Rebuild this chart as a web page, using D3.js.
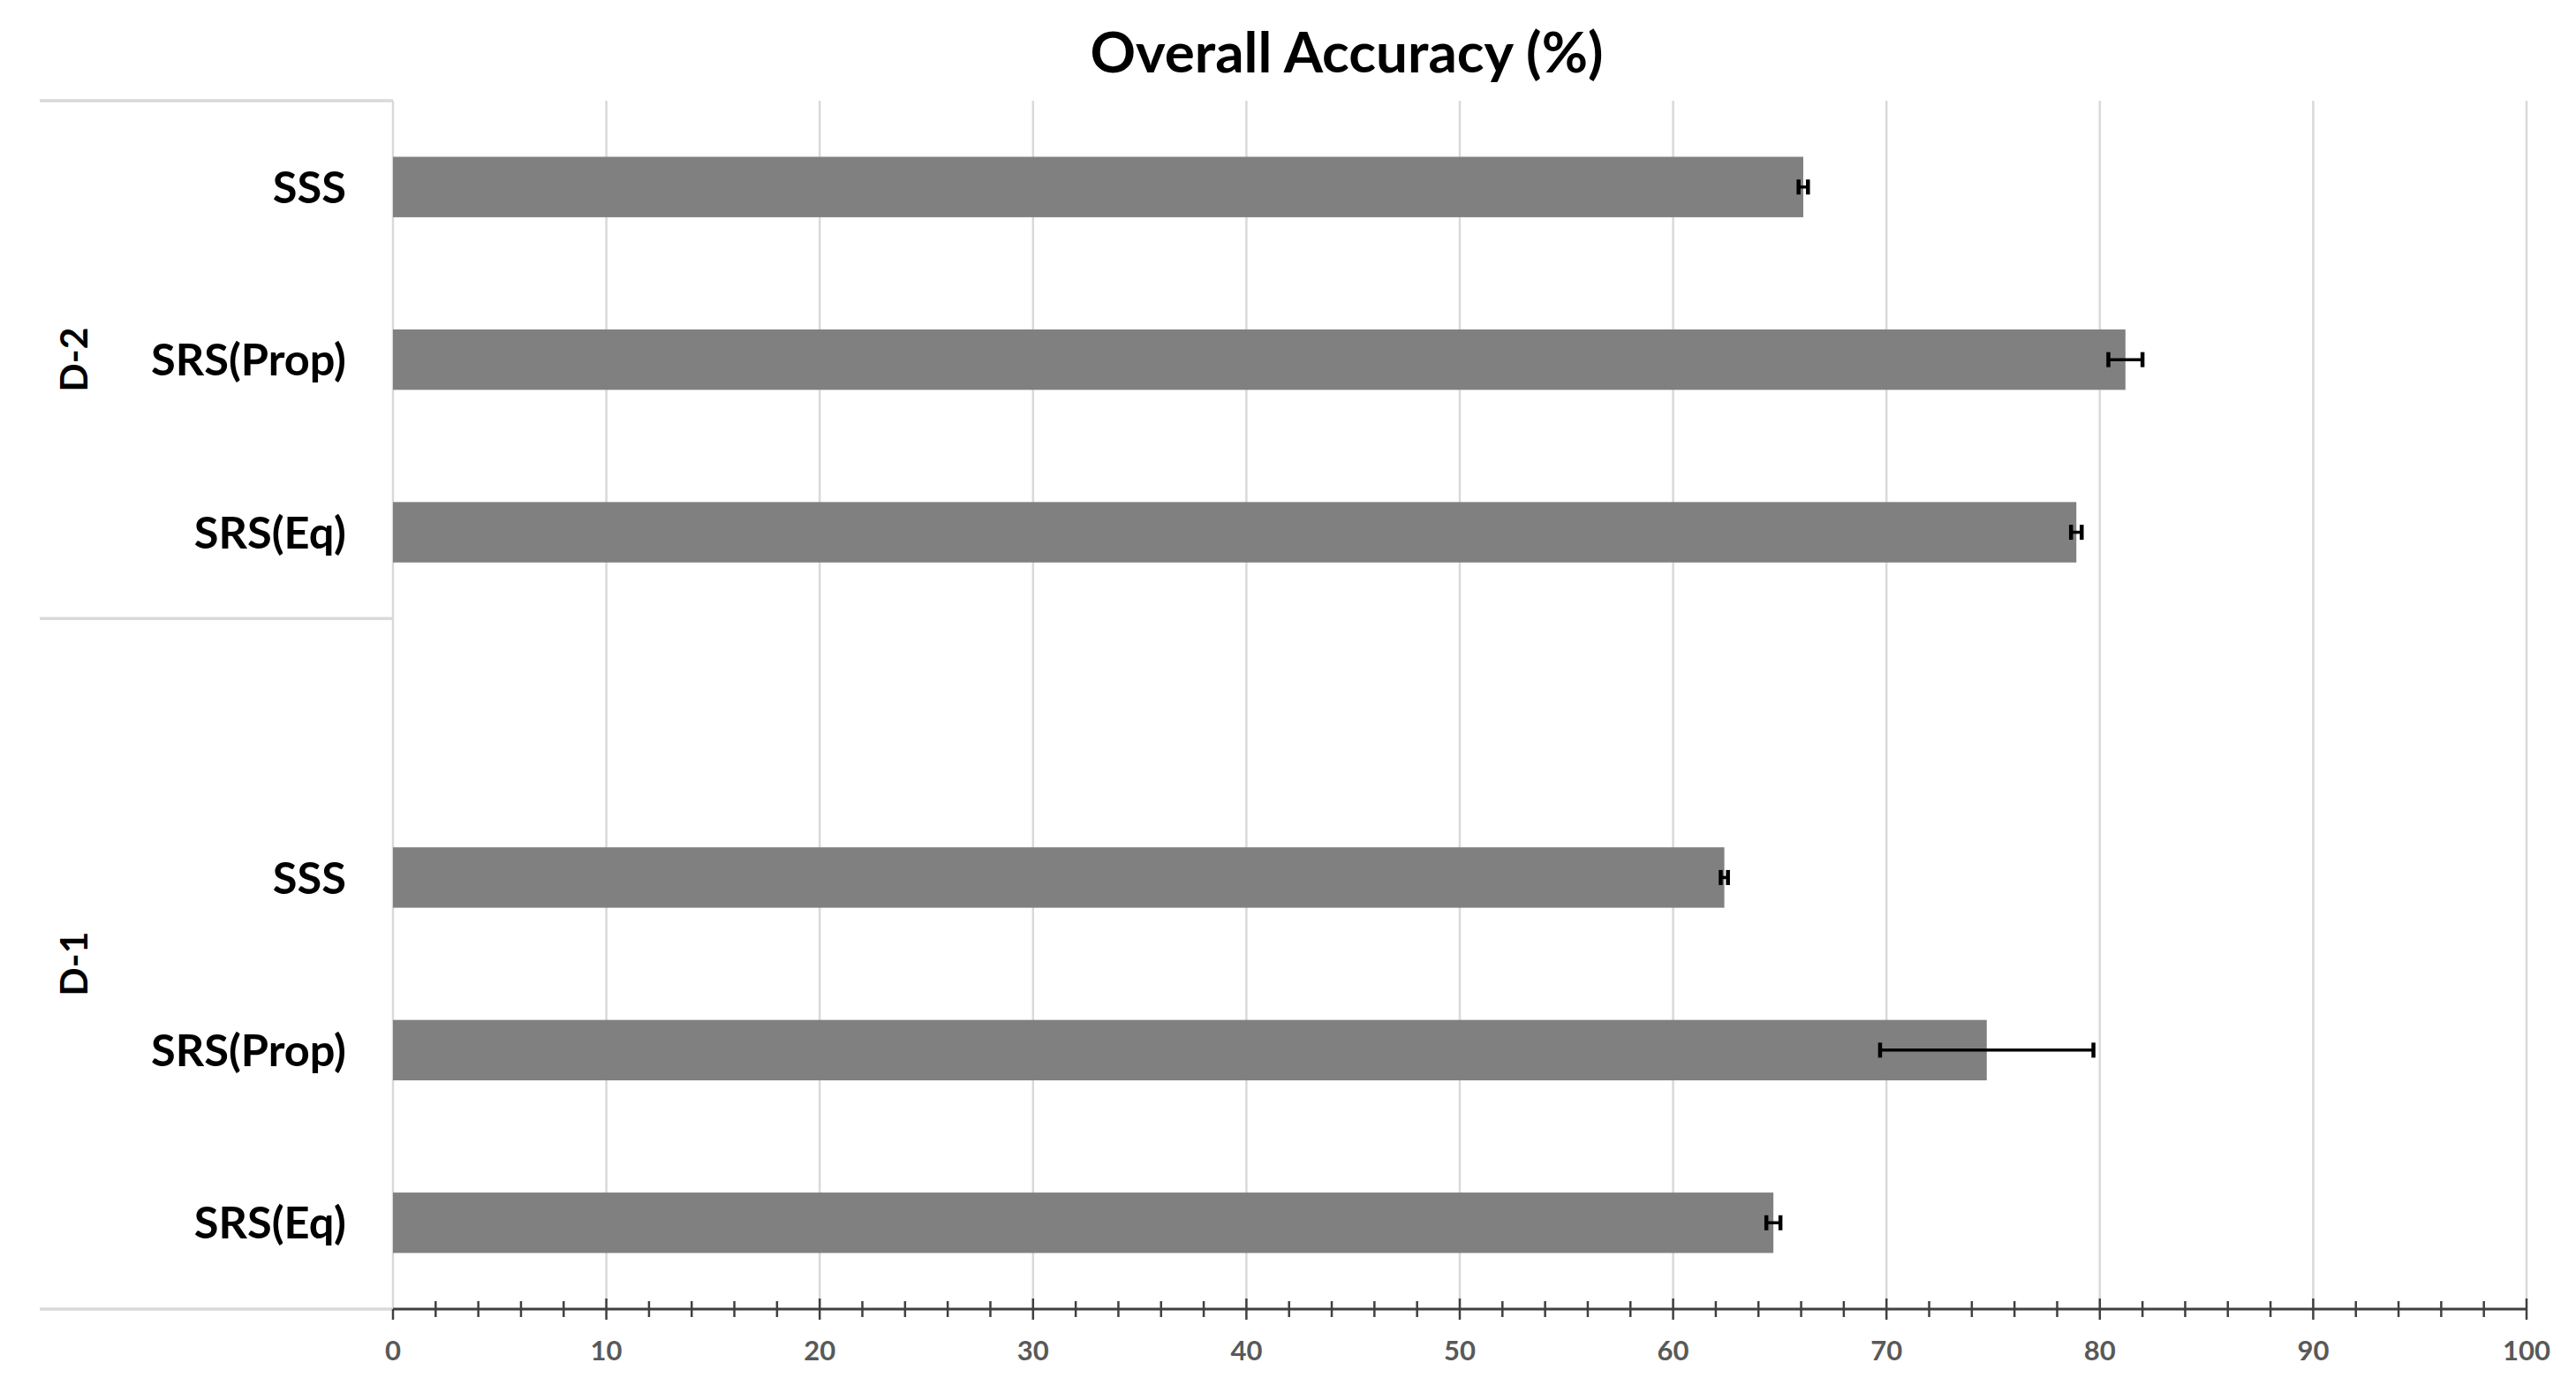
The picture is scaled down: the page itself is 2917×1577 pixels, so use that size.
<!DOCTYPE html>
<html><head><meta charset="utf-8">
<script src="https://cdn.jsdelivr.net/npm/d3@7"></script>
<style>html,body{margin:0;padding:0;background:#fff;} svg{display:block;background:#fff}</style>
</head><body>
<svg id="chart" width="2917" height="1577"></svg>
<script>
// ---- data ----
const chartTitle = "Overall Accuracy (%)";
const groups = ["D-2", "D-1"];
const methods = ["SSS", "SRS(Prop)", "SRS(Eq)"];
const d2Values = [66.1, 81.2, 78.9];
const d2Errors = [0.22, 0.8, 0.25];
const d1Values = [62.4, 74.7, 64.7];
const d1Errors = [0.17, 5.0, 0.33];
const xTickLabels = [0, 10, 20, 30, 40, 50, 60, 70, 80, 90, 100];

// ---- build rows (top to bottom, with blank slot like the source) ----
const rows = [];
methods.forEach((m, i) => rows.push({key: "D-2|" + m, group: "D-2", method: m, value: d2Values[i], err: d2Errors[i]}));
rows.push({key: "D-1|blank", group: "D-1", method: "", value: null, err: null});
methods.forEach((m, i) => rows.push({key: "D-1|" + m, group: "D-1", method: m, value: d1Values[i], err: d1Errors[i]}));

const svg = d3.select("#chart");
const FONT = "Lato, 'Open Sans', sans-serif";

const plotTop = 114, plotBottom = 1482, plotLeft = 445, plotRight = 2861;
const labelLeft = 45;

const x = d3.scaleLinear().domain([0, 100]).range([plotLeft, plotRight]);
const y = d3.scaleBand().domain(rows.map(r => r.key)).range([plotTop, plotBottom]).paddingInner(0).paddingOuter(0);
const barH = y.bandwidth() * 0.35;

function fitSize(text, target, weight) {
  const t = svg.append("text").attr("font-family", FONT).attr("font-weight", weight).attr("font-size", 100).text(text);
  const w = t.node().getComputedTextLength();
  t.remove();
  return 100 * target / w;
}

// gridlines
svg.append("g").selectAll("line").data(xTickLabels).join("line")
  .attr("x1", d => x(d)).attr("x2", d => x(d))
  .attr("y1", plotTop).attr("y2", plotBottom)
  .attr("stroke", "#d9d9d9").attr("stroke-width", 2.5);

// category separators in label area
const sepYs = [plotTop, y("D-1|blank"), plotBottom];
svg.append("g").selectAll("line").data(sepYs).join("line")
  .attr("x1", labelLeft).attr("x2", plotLeft)
  .attr("y1", d => d).attr("y2", d => d)
  .attr("stroke", "#d9d9d9").attr("stroke-width", 3.5);

// bars
const barRows = rows.filter(r => r.value !== null);
svg.append("g").selectAll("rect").data(barRows).join("rect")
  .attr("x", x(0)).attr("y", d => y(d.key) + (y.bandwidth() - barH) / 2)
  .attr("width", d => x(d.value) - x(0)).attr("height", barH)
  .attr("fill", "#808080");

// error bars
const eb = svg.append("g").attr("stroke", "#000");
barRows.forEach(d => {
  const cy = y(d.key) + y.bandwidth() / 2;
  eb.append("line").attr("x1", x(d.value - d.err)).attr("x2", x(d.value + d.err))
    .attr("y1", cy).attr("y2", cy).attr("stroke-width", 3.5);
  [d.value - d.err, d.value + d.err].forEach(v => {
    eb.append("line").attr("x1", x(v)).attr("x2", x(v))
      .attr("y1", cy - 8.5).attr("y2", cy + 8.5).attr("stroke-width", 4.5);
  });
});

// x axis line and ticks
const axisG = svg.append("g").attr("stroke", "#404040");
axisG.append("line").attr("x1", x(0)).attr("x2", x(100)).attr("y1", plotBottom).attr("y2", plotBottom).attr("stroke-width", 3);
const minor = d3.range(0, 101, 2).filter(v => v % 10 !== 0);
axisG.selectAll("line.minor").data(minor).join("line").attr("class", "minor")
  .attr("x1", d => x(d)).attr("x2", d => x(d))
  .attr("y1", plotBottom - 9).attr("y2", plotBottom + 9).attr("stroke-width", 2.5);
axisG.selectAll("line.major").data(xTickLabels).join("line").attr("class", "major")
  .attr("x1", d => x(d)).attr("x2", d => x(d))
  .attr("y1", d => d === 0 ? plotBottom : plotBottom - 12).attr("y2", plotBottom + 12).attr("stroke-width", 2.5);

// tick labels
const tickFs = fitSize("100", 54, "bold");
svg.append("g").selectAll("text").data(xTickLabels).join("text")
  .attr("x", d => x(d)).attr("y", 1540)
  .attr("text-anchor", "middle")
  .attr("font-family", FONT).attr("font-weight", "bold").attr("font-size", tickFs)
  .attr("fill", "#595959").text(d => d);

// category labels
const catFs = fitSize("SRS(Prop)", 221, "bold");
svg.append("g").selectAll("text").data(barRows).join("text")
  .attr("x", 392).attr("y", d => y(d.key) + y.bandwidth() / 2 + catFs * 0.36)
  .attr("text-anchor", "end")
  .attr("font-family", FONT).attr("font-weight", "bold").attr("font-size", catFs)
  .attr("fill", "#000").text(d => d.method);

// group labels
const grpFs = fitSize("D-1", 73, "bold");
groups.forEach(g => {
  const gr = rows.filter(r => r.group === g);
  const y0 = y(gr[0].key), y1 = y(gr[gr.length - 1].key) + y.bandwidth();
  const cy = (y0 + y1) / 2;
  svg.append("text")
    .attr("transform", `translate(${84 + grpFs * 0.36},${cy}) rotate(-90)`)
    .attr("text-anchor", "middle")
    .attr("font-family", FONT).attr("font-weight", "bold").attr("font-size", grpFs)
    .attr("fill", "#000").text(g);
});

// title
const titleFs = fitSize(chartTitle, 581, "bold");
svg.append("text").attr("x", 1525).attr("y", 82)
  .attr("text-anchor", "middle")
  .attr("font-family", FONT).attr("font-weight", "bold").attr("font-size", titleFs)
  .attr("fill", "#000").text(chartTitle);
</script>
</body></html>
